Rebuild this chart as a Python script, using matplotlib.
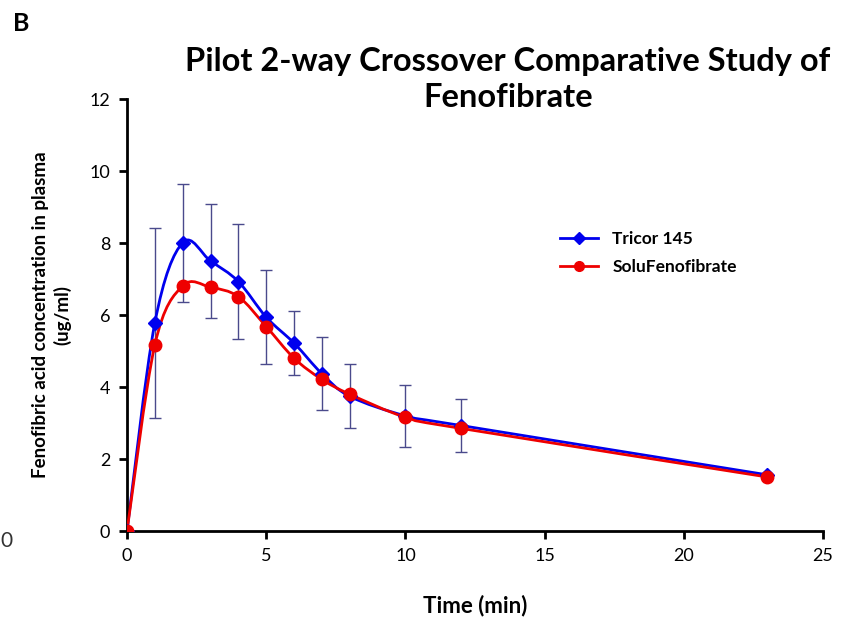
import matplotlib
matplotlib.use("Agg")
import matplotlib.pyplot as plt
from matplotlib.path import Path
from matplotlib.patches import PathPatch
from matplotlib.lines import Line2D
import numpy as np

plt.rcParams['font.family'] = ['Lato', 'DejaVu Sans']

# sampling times (min) and mean plasma levels
time = [0, 1, 2, 3, 4, 5, 6, 7, 8, 10, 12, 23]
tricor = [0, 5.78, 8.01, 7.50, 6.93, 5.94, 5.22, 4.37, 3.74, 3.20, 2.93, 1.56]
solu = [0, 5.17, 6.81, 6.77, 6.51, 5.68, 4.80, 4.21, 3.80, 3.16, 2.85, 1.50]

# standard deviation bars shown on the Tricor series
err_time = [1, 2, 3, 4, 5, 6, 7, 8, 10, 12]
err_mean = [5.78, 8.01, 7.50, 6.93, 5.94, 5.22, 4.37, 3.74, 3.20, 2.93]
err_sd = [2.65, 1.64, 1.58, 1.61, 1.30, 0.89, 1.01, 0.89, 0.86, 0.74]


def smooth_path(xs, ys):
    # excel-style smoothed line: cubic bezier segments between the points
    pts = np.column_stack([xs, ys]).astype(float)
    verts = [pts[0]]
    codes = [Path.MOVETO]
    n = len(pts)
    for i in range(n - 1):
        p0 = pts[i - 1] if i > 0 else pts[i]
        p1 = pts[i]
        p2 = pts[i + 1]
        p3 = pts[i + 2] if i + 2 < n else pts[i + 1]
        c1 = p1 + (p2 - p0) / 6.0
        c2 = p2 - (p3 - p1) / 6.0
        verts += [c1, c2, p2]
        codes += [Path.CURVE4] * 3
    return Path(verts, codes)


fig = plt.figure(figsize=(8.41, 6.29), dpi=100)
ax = fig.add_axes([127 / 841, 1 - 531 / 629, 696 / 841, 432 / 629])

ax.errorbar(err_time, err_mean, yerr=err_sd, fmt='none', ecolor='#4a4a8c',
            elinewidth=1.0, capsize=4, capthick=1.0, zorder=1)

ax.add_patch(PathPatch(smooth_path(time, tricor), fill=False, edgecolor='#0000ee',
                       lw=2.0, zorder=2))
ax.add_patch(PathPatch(smooth_path(time, solu), fill=False, edgecolor='#ee0000',
                       lw=2.0, zorder=3))
ax.plot(time, tricor, ls='none', marker='D', ms=7, color='#0000ee', zorder=4)
ax.plot(time, solu, ls='none', marker='o', ms=9, color='#ee0000', zorder=5)

ax.set_xlim(0, 25)
ax.set_ylim(0, 12)
ax.set_xticks([0, 5, 10, 15, 20, 25])
ax.set_yticks([0, 2, 4, 6, 8, 10, 12])
ax.spines['top'].set_visible(False)
ax.spines['right'].set_visible(False)
ax.spines['left'].set_linewidth(2)
ax.spines['bottom'].set_linewidth(2)
ax.tick_params(direction='out', length=6, width=2, labelsize=13, pad=6)

ax.set_xlabel('Time (min)', fontsize=16, fontweight='bold', labelpad=22)
ax.set_ylabel('Fenofibric acid concentration in plasma\n(ug/ml)', fontsize=13.5,
              fontweight='bold', labelpad=13, linespacing=1.3)

fig.text(0.604, 0.874, 'Pilot 2-way Crossover Comparative Study of\nFenofibrate',
         ha='center', va='center', fontsize=23.5, fontweight='bold', linespacing=1.3)
fig.text(0.016, 0.962, 'B', fontsize=18, fontweight='bold', va='center')
fig.text(0.001, 0.14, '0', fontsize=15, va='center', color='#333333')

handles = [Line2D([], [], color='#0000ee', marker='D', ms=6, lw=2),
           Line2D([], [], color='#ee0000', marker='o', ms=7, lw=2)]
leg = ax.legend(handles, ['Tricor 145', 'SoluFenofibrate'], loc='upper left',
                bbox_to_anchor=(0.6, 0.73), frameon=False, handlelength=2.2,
                prop={'weight': 'bold', 'size': 12.5}, labelspacing=0.7)

fig.savefig('out.png', dpi=100)
